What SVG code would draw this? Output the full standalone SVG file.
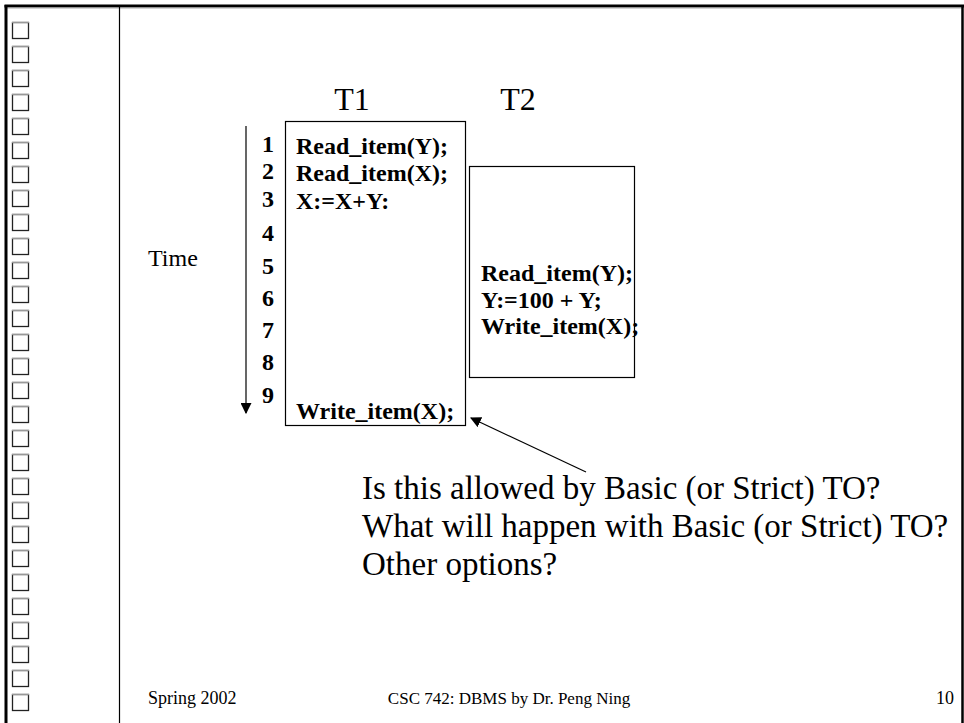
<svg xmlns="http://www.w3.org/2000/svg" width="964" height="723" viewBox="0 0 964 723">
  <style>
    .frame { stroke: #000; fill: none; }
    .box { fill: none; stroke: #000; stroke-width: 1.2; }
    .serif { font-family: "Liberation Serif", "Times New Roman", serif; fill: #000; }
    .step { font-family: "Liberation Serif", "Times New Roman", serif; font-weight: bold; font-size: 24px; }
    .code { font-family: "Liberation Serif", "Times New Roman", serif; font-weight: bold; font-size: 24px; }
    .big { font-size: 32px; }
    .ask { font-size: 33px; }
    .foot { font-size: 18px; }
    .conn { stroke: #000; stroke-width: 1.2; fill: none; }
  </style>
  <defs>
    <g id="bullet">
      <rect x="0.5" y="0.5" width="16" height="16" fill="#fff" stroke="#222" stroke-width="1.3"/>
      <line x1="0" y1="0.5" x2="17" y2="0.5" stroke="#999" stroke-width="1.3"/>
    </g>
    <marker id="tip" viewBox="0 0 10 10" refX="9" refY="5" markerWidth="11" markerHeight="11" markerUnits="userSpaceOnUse" orient="auto">
      <path d="M0,0 L10,5 L0,10 z" fill="#000"/>
    </marker>
  </defs>

  <rect width="964" height="723" fill="#fff"/>

  <!-- slide frame -->
  <g id="frame">
    <line class="frame" x1="4.5" y1="6" x2="964" y2="6" stroke-width="3"/>
    <line x1="6" y1="8" x2="962" y2="8" stroke="#aaa" stroke-width="1"/>
    <line class="frame" x1="6" y1="5" x2="6" y2="723" stroke-width="3"/>
    <line class="frame" x1="962.5" y1="5" x2="962.5" y2="723" stroke-width="2.5"/>
    <line class="frame" x1="119.5" y1="6" x2="119.5" y2="723" stroke-width="1.2"/>
  </g>

  <!-- margin bullets -->
  <g id="bullets">
    <use href="#bullet" x="12" y="22"/>
    <use href="#bullet" x="12" y="46"/>
    <use href="#bullet" x="12" y="70"/>
    <use href="#bullet" x="12" y="94"/>
    <use href="#bullet" x="12" y="118"/>
    <use href="#bullet" x="12" y="142"/>
    <use href="#bullet" x="12" y="166"/>
    <use href="#bullet" x="12" y="190"/>
    <use href="#bullet" x="12" y="214"/>
    <use href="#bullet" x="12" y="238"/>
    <use href="#bullet" x="12" y="262"/>
    <use href="#bullet" x="12" y="286"/>
    <use href="#bullet" x="12" y="310"/>
    <use href="#bullet" x="12" y="334"/>
    <use href="#bullet" x="12" y="358"/>
    <use href="#bullet" x="12" y="382"/>
    <use href="#bullet" x="12" y="406"/>
    <use href="#bullet" x="12" y="430"/>
    <use href="#bullet" x="12" y="454"/>
    <use href="#bullet" x="12" y="478"/>
    <use href="#bullet" x="12" y="502"/>
    <use href="#bullet" x="12" y="526"/>
    <use href="#bullet" x="12" y="550"/>
    <use href="#bullet" x="12" y="574"/>
    <use href="#bullet" x="12" y="598"/>
    <use href="#bullet" x="12" y="622"/>
    <use href="#bullet" x="12" y="646"/>
    <use href="#bullet" x="12" y="670"/>
    <use href="#bullet" x="12" y="694"/>
  </g>

  <!-- column headings -->
  <g id="headings">
    <text class="serif big" x="352" y="110" text-anchor="middle">T1</text>
    <text class="serif big" x="518" y="110" text-anchor="middle">T2</text>
    <text class="serif" x="148" y="266" font-size="24">Time</text>
  </g>

  <!-- time steps -->
  <g id="steps" class="step">
    <text x="262" y="152">1</text>
    <text x="262" y="179">2</text>
    <text x="262" y="207">3</text>
    <text x="262" y="241">4</text>
    <text x="262" y="274">5</text>
    <text x="262" y="306">6</text>
    <text x="262" y="338">7</text>
    <text x="262" y="370">8</text>
    <text x="262" y="403">9</text>
  </g>

  <!-- transaction T1 -->
  <g id="t1">
    <rect class="box" x="285.5" y="121.5" width="180" height="304"/>
    <text class="code" x="296" y="154">Read_item(Y);</text>
    <text class="code" x="296" y="181">Read_item(X);</text>
    <text class="code" x="296" y="209">X:=X+Y:</text>
    <text class="code" x="296" y="419">Write_item(X);</text>
  </g>

  <!-- transaction T2 -->
  <g id="t2">
    <rect class="box" x="469.5" y="166.5" width="165" height="211"/>
    <text class="code" x="481" y="281">Read_item(Y);</text>
    <text class="code" x="481" y="308">Y:=100 + Y;</text>
    <text class="code" x="481" y="334">Write_item(X);</text>
  </g>

  <!-- question block -->
  <g id="questions" class="serif ask">
    <text x="362" y="499">Is this allowed by Basic (or Strict) TO?</text>
    <text x="362" y="537">What will happen with Basic (or Strict) TO?</text>
    <text x="362" y="575">Other options?</text>
  </g>

  <!-- footer -->
  <g id="footer" class="serif foot">
    <text x="148" y="704">Spring 2002</text>
    <text x="509" y="704" text-anchor="middle" font-size="17">CSC 742: DBMS by Dr. Peng Ning</text>
    <text x="954" y="704" text-anchor="end">10</text>
  </g>

  <!-- connectors -->
  <g id="connectors">
    <line class="conn" x1="246" y1="126" x2="246" y2="413" marker-end="url(#tip)"/>
    <line class="conn" x1="586" y1="472" x2="471" y2="418" marker-end="url(#tip)"/>
  </g>
</svg>
